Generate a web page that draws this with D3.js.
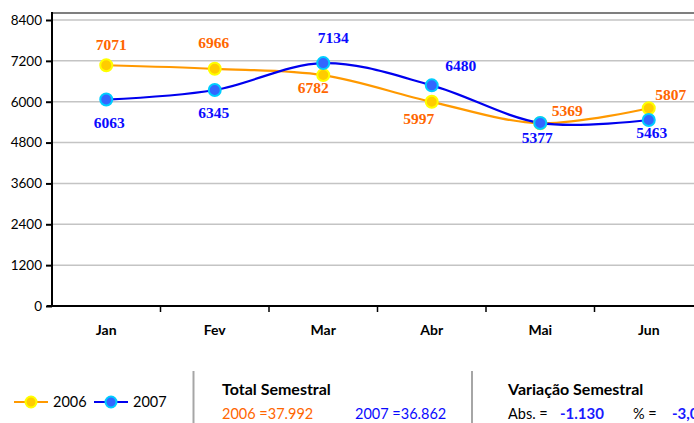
<!DOCTYPE html>
<html>
<head>
<meta charset="utf-8">
<script src="https://cdn.jsdelivr.net/npm/d3@7"></script>
<style>
  body { margin: 0; background: #fff; }
  svg { display: block; font-family: Lato, "Open Sans", sans-serif; }
</style>
</head>
<body>
<div id="app"></div>
<script>
const months = ["Jan", "Fev", "Mar", "Abr", "Mai", "Jun"];
const values2006 = [7071, 6966, 6782, 5997, 5369, 5807];
const values2007 = [6063, 6345, 7134, 6480, 5377, 5463];
const yTicks = [0, 1200, 2400, 3600, 4800, 6000, 7200, 8400];

// label nudges (px) from each point: [dx, dy], text centred on x
const labelShift2006 = [[5, -15], [-1, -21], [-10, 18], [-13, 22], [27, -7], [22, -8]];
const labelShift2007 = [[3, 28], [-1, 28], [10, -20], [29, -14], [-3, 20], [3, 18]];

const width = 694, height = 423;

const svg = d3.select("#app").append("svg")
    .attr("width", width)
    .attr("height", height);

const x = d3.scaleBand().domain(months).range([52, 703]);
const y = d3.scaleLinear().domain([0, 8400]).range([306, 20]);
const cx = (m) => x(m) + x.bandwidth() / 2;

// top frame line
svg.append("line")
    .attr("x1", 52).attr("x2", width)
    .attr("y1", 13).attr("y2", 13)
    .attr("stroke", "#7f7f7f").attr("stroke-width", 2);

// grid
svg.append("g")
    .selectAll("line")
    .data(yTicks.filter(d => d > 0))
    .join("line")
    .attr("x1", 52).attr("x2", width)
    .attr("y1", d => y(d)).attr("y2", d => y(d))
    .attr("stroke", "#c4c4c4").attr("stroke-width", 1.5);

// y axis
const yAxis = svg.append("g")
    .attr("transform", "translate(52,0)")
    .call(d3.axisLeft(y).tickValues(yTicks).tickSize(6).tickPadding(4).tickFormat(d3.format("d")));
yAxis.select(".domain").remove();
yAxis.selectAll(".tick line").attr("stroke", "#000").attr("stroke-width", 2);
yAxis.selectAll("text")
    .attr("font-family", "Lato, sans-serif")
    .attr("font-size", 13.5)
    .attr("fill", "#000");
svg.append("line")
    .attr("x1", 52).attr("x2", 52)
    .attr("y1", 12).attr("y2", 307)
    .attr("stroke", "#000").attr("stroke-width", 2);

// x axis
svg.append("line")
    .attr("x1", 47).attr("x2", width)
    .attr("y1", 306).attr("y2", 306)
    .attr("stroke", "#000").attr("stroke-width", 2);
svg.append("g")
    .selectAll("line")
    .data(months)
    .join("line")
    .attr("x1", d => x(d) + x.bandwidth()).attr("x2", d => x(d) + x.bandwidth())
    .attr("y1", 306).attr("y2", 312)
    .attr("stroke", "#000").attr("stroke-width", 1.5);
svg.append("g")
    .selectAll("text")
    .data(months)
    .join("text")
    .attr("x", d => cx(d))
    .attr("y", 335)
    .attr("text-anchor", "middle")
    .attr("font-weight", "bold")
    .attr("font-size", 14)
    .text(d => d);

const line = d3.line()
    .x((d, i) => cx(months[i]))
    .y(d => y(d))
    .curve(d3.curveCardinal.tension(0));

const series = [
    { vals: values2006, shift: labelShift2006, stroke: "#ff9900", fill: "#ffcc00", ring: "#ffff00", text: "#ff6600", label: "2006" },
    { vals: values2007, shift: labelShift2007, stroke: "#0000ee", fill: "#3366ff", ring: "#00ccff", text: "#0a0aff", label: "2007" }
];

series.forEach(s => {
    svg.append("path")
        .datum(s.vals)
        .attr("fill", "none")
        .attr("stroke", s.stroke)
        .attr("stroke-width", 2.2)
        .attr("d", line);
});

series.forEach(s => {
    svg.append("g")
        .selectAll("circle")
        .data(s.vals)
        .join("circle")
        .attr("cx", (d, i) => cx(months[i]))
        .attr("cy", d => y(d))
        .attr("r", 6)
        .attr("fill", s.fill)
        .attr("stroke", s.ring)
        .attr("stroke-width", 2);
});

series.forEach(s => {
    svg.append("g")
        .selectAll("text")
        .data(s.vals)
        .join("text")
        .attr("x", (d, i) => cx(months[i]) + s.shift[i][0])
        .attr("y", (d, i) => y(d) + s.shift[i][1])
        .attr("text-anchor", "middle")
        .attr("font-family", "'Liberation Serif', 'Times New Roman', serif")
        .attr("font-weight", "bold")
        .attr("font-size", 15.5)
        .attr("fill", s.text)
        .text(d => d);
});

// bottom panel
const legend = svg.append("g");
series.forEach((s, k) => {
    const lx = 14 + k * 80;
    legend.append("line")
        .attr("x1", lx).attr("x2", lx + 34)
        .attr("y1", 402).attr("y2", 402)
        .attr("stroke", s.stroke).attr("stroke-width", 2);
    legend.append("circle")
        .attr("cx", lx + 17).attr("cy", 402).attr("r", 5.5)
        .attr("fill", s.fill).attr("stroke", s.ring).attr("stroke-width", 2);
    legend.append("text")
        .attr("x", lx + 39).attr("y", 407)
        .attr("font-size", 14.5)
        .text(s.label);
});

[193.5, 472].forEach(sx => {
    svg.append("line")
        .attr("x1", sx).attr("x2", sx)
        .attr("y1", 371).attr("y2", height)
        .attr("stroke", "#a6a6a6").attr("stroke-width", 2);
});

const ptFmt = d3.formatLocale({ decimal: ",", thousands: ".", grouping: [3], currency: ["", ""], minus: "-" });
const total2006 = d3.sum(values2006);
const total2007 = d3.sum(values2007);
const diff = total2007 - total2006;
const pct = diff / total2006 * 100;

svg.append("text").attr("x", 222).attr("y", 395)
    .attr("font-weight", "bold").attr("font-size", 16)
    .text("Total Semestral");
svg.append("text").attr("x", 222).attr("y", 419)
    .attr("font-size", 14.5).attr("fill", "#ff6600")
    .text("2006 =" + ptFmt.format(",")(total2006));
svg.append("text").attr("x", 355).attr("y", 419)
    .attr("font-size", 14.5).attr("fill", "#0a0aff")
    .text("2007 =" + ptFmt.format(",")(total2007));

svg.append("text").attr("x", 508).attr("y", 395)
    .attr("font-weight", "bold").attr("font-size", 16)
    .text("Variação Semestral");
svg.append("text").attr("x", 508).attr("y", 419)
    .attr("font-size", 14.5)
    .text("Abs. =");
svg.append("text").attr("x", 560).attr("y", 419)
    .attr("font-size", 15).attr("font-weight", "bold").attr("fill", "#1a1aff")
    .text(ptFmt.format(",")(diff));
svg.append("text").attr("x", 633).attr("y", 419)
    .attr("font-size", 14.5)
    .text("% =");
svg.append("text").attr("x", 672).attr("y", 419)
    .attr("font-size", 15).attr("font-weight", "bold").attr("fill", "#1a1aff")
    .text(ptFmt.format(".1f")(pct) + "%");
</script>
</body>
</html>
